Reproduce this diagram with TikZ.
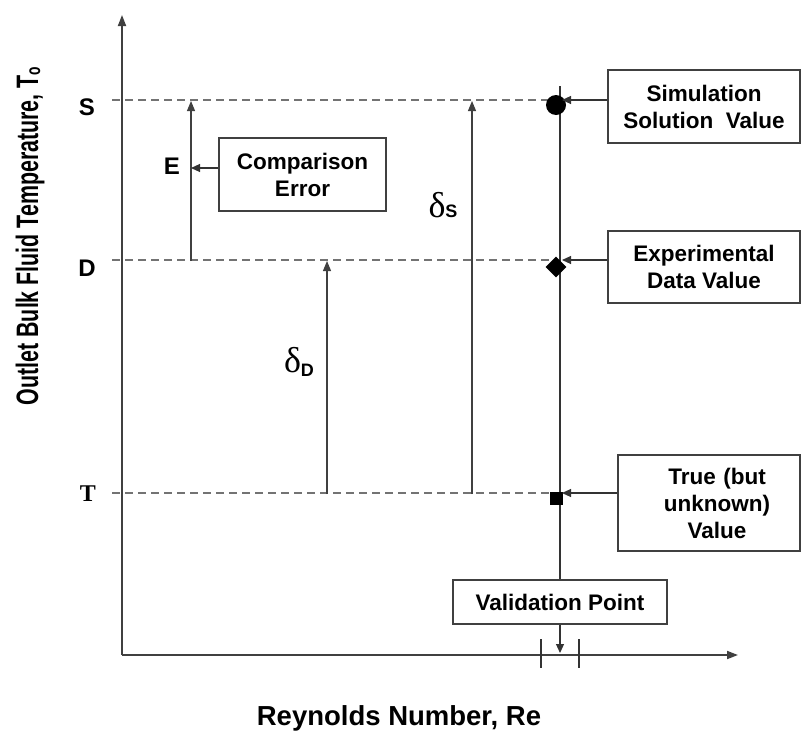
\documentclass[tikz,border=0pt]{standalone}
\usepackage{fontspec}
\setmainfont{Liberation Sans}
\newfontfamily\greekfont{Liberation Serif}
\newfontfamily\tfont{Liberation Serif}
\usetikzlibrary{arrows.meta,shapes.geometric}
\tikzset{axis/.style={line width=1.8pt,black!75,-{Triangle[length=11pt,width=8pt]}},level/.style={line width=1.1pt,black!55,dash pattern=on 8pt off 5pt},span/.style={line width=1.1pt,black!75,-{Triangle[length=10pt,width=8pt]}},pointer/.style={line width=1.1pt,black!80,-{Triangle[length=9pt,width=8pt]}},note/.style={draw=black!75,line width=1.3pt,fill=white,inner sep=0pt,align=center,font=\fontsize{22.5}{27}\bfseries},tag/.style={inner sep=0pt,font=\fontsize{24}{26}\bfseries},delta/.style={inner sep=0pt}}

\begin{document}
\begin{tikzpicture}[x=1pt,y=-1pt]
\path[use as bounding box] (0,0) rectangle (802,734);
% axes
\coordinate (O) at (122,655);
\coordinate (ytop) at (122,15);
\coordinate (xend) at (738,655);
\draw[axis] (O) -- (ytop);
\draw[axis] (O) -- (xend);
\node[rotate=90,inner sep=0pt,font=\fontsize{31}{33}\bfseries] (ylab) at (30,236) {\scalebox{0.69}[1]{Outlet Bulk Fluid Temperature, T\raisebox{-2pt}{\fontsize{20}{20}\selectfont o}}};
\node[inner sep=0pt,font=\fontsize{27.5}{30}\bfseries] (xlab) at (399,718) {Reynolds Number, Re};
% levels S, D, T
\node[tag] (S) at (87,107) {S};
\node[tag] (D) at (87,268) {D};
\node[tag,font=\fontsize{24}{26}\tfont\bfseries] (T) at (88,494) {T};
\coordinate (sL) at (112,100);
\coordinate (sR) at (556,100);
\coordinate (dL) at (112,260);
\coordinate (dR) at (556,260);
\coordinate (tL) at (112,493);
\coordinate (tR) at (556,493);
\draw[level] (sL) -- (sR);
\draw[level] (dL) -- (dR);
\draw[level] (tL) -- (tR);
% validation point line
\node[note,minimum width=214pt,minimum height=44pt] (valbox) at (560,602) {Validation Point};
\coordinate (vtop) at (560,86);
\coordinate (vaxis) at (560,653);
\draw[line width=1.1pt,black!80] (vtop) -- (valbox.north);
\draw[pointer] (valbox.south) -- (vaxis);
\draw[line width=1.1pt,black!80] (541,639) -- (541,668);
\draw[line width=1.1pt,black!80] (579,639) -- (579,668);
% markers
\node[circle,fill=black,minimum size=20pt,inner sep=0pt] (simpt) at (556,105) {};
\node[diamond,fill=black,minimum size=21pt,inner sep=0pt] (exppt) at (556,267) {};
\node[rectangle,fill=black,minimum size=13pt,inner sep=0pt] (truept) at (556,498) {};
% boxes
\node[note,minimum width=192pt,minimum height=73pt] (simbox) at (704,106.5) {Simulation\\Solution\ \ Value};
\node[note,minimum width=192pt,minimum height=72pt] (expbox) at (704,267) {Experimental\\Data Value};
\node[note,minimum width=182pt,minimum height=96pt,text width=182pt] (truebox) at (709,503) {\hspace*{16pt}True (but\\\hspace*{16pt}unknown)\\\hspace*{16pt}Value};
\node[note,minimum width=167pt,minimum height=73pt] (cmpbox) at (302.5,174.5) {Comparison\\Error};
\coordinate (simtip) at (562,100);
\coordinate (exptip) at (562,260);
\coordinate (truetip) at (562,493);
\draw[pointer] (simbox.west |- simtip) -- (simtip);
\draw[pointer] (expbox.west |- exptip) -- (exptip);
\draw[pointer] (truebox.west |- truetip) -- (truetip);
% differences
\coordinate (eB) at (191,261);
\coordinate (eT) at (191,101);
\coordinate (ddB) at (327,494);
\coordinate (ddT) at (327,261);
\coordinate (dsB) at (472,494);
\coordinate (dsT) at (472,101);
\draw[span] (eB) -- (eT);
\draw[span] (ddB) -- (ddT);
\draw[span] (dsB) -- (dsT);
\coordinate (etip) at (191,168);
\draw[pointer] (cmpbox.west |- etip) -- (etip);
\node[tag] (E) at (172,166) {E};
\node[delta] (deltaS) at (443,205) {{\greekfont\fontsize{36}{36}\selectfont δ}{\fontsize{18}{18}\bfseries S}};
\node[delta] (deltaD) at (299,362) {{\greekfont\fontsize{36}{36}\selectfont δ}\raisebox{-4pt}{\fontsize{18}{18}\bfseries D}};
\end{tikzpicture}
\end{document}
